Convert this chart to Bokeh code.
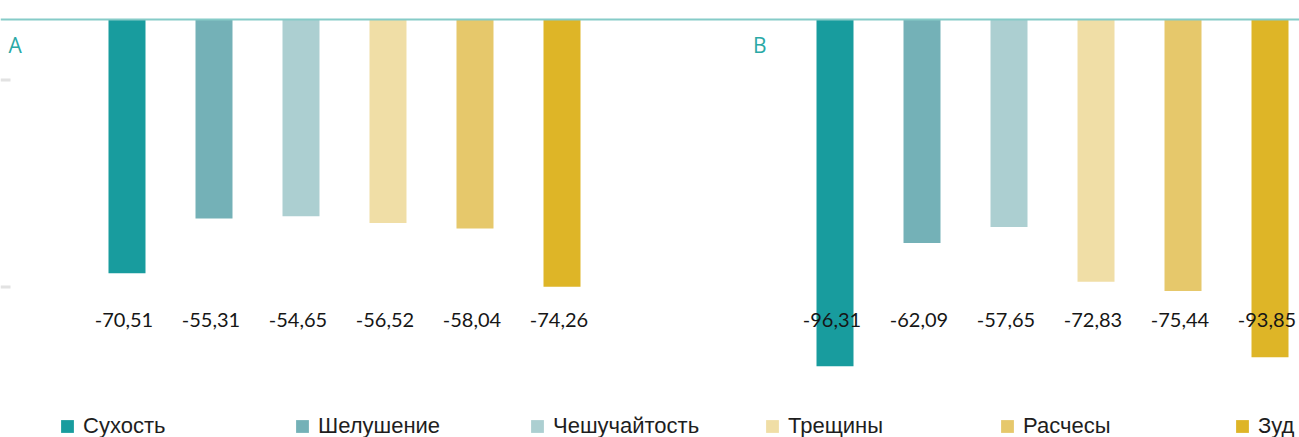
from bokeh.plotting import figure
from bokeh.models import (ColumnDataSource, Span, Label, Legend, LegendItem, Range1d,
                          BoxAnnotation)
from bokeh.core.properties import value
from bokeh.embed import file_html
from bokeh.resources import INLINE

# ---- data ----
categories = ["Сухость", "Шелушение", "Чешучайтость", "Трещины", "Расчесы", "Зуд"]
values_a = [-70.51, -55.31, -54.65, -56.52, -58.04, -74.26]
values_b = [-96.31, -62.09, -57.65, -72.83, -75.44, -93.85]
panel_names = ["A", "B"]

# ---- style ----
colors = ["#189c9e", "#74b1b7", "#accfd1", "#f0dea6", "#e6c86b", "#deb527"]
W, H = 1299, 437
PX_PER_X = 87.0          # pixels per bar slot
PX_PER_Y = 3.6           # pixels per value unit
X0 = -1.454              # left edge of range
GROUP_B = 8.138          # x shift of panel B
LINE_TOP = 19            # px from top of figure to zero line
LABEL_Y = -83.6          # y of value labels

x_end = X0 + W / PX_PER_X
y_end = LINE_TOP / PX_PER_Y
y_start = y_end - H / PX_PER_Y

p = figure(width=W, height=H, output_backend="svg", toolbar_location=None,
           x_range=Range1d(X0, x_end), y_range=Range1d(y_start, y_end),
           x_axis_location=None, y_axis_location=None, min_border=0)
p.outline_line_color = None
p.xgrid.visible = False
p.ygrid.visible = False
p.background_fill_color = "white"

fmt = lambda v: f"{v:.2f}".replace(".", ",")

# faint remnants of a left axis
for top_px in [78, 285]:
    p.add_layout(BoxAnnotation(left=0, right=10, top=H - top_px, bottom=H - top_px - 3,
                               left_units="screen", right_units="screen",
                               top_units="screen", bottom_units="screen",
                               fill_color="#e2e2e2", fill_alpha=1, line_color=None))

items = []
for i, cat in enumerate(categories):
    src = ColumnDataSource(dict(x=[i, i + GROUP_B], bottom=[values_a[i], values_b[i]]))
    r = p.vbar(x="x", top=0, bottom="bottom", width=37 / PX_PER_X, source=src,
               fill_color=colors[i], line_color=None)
    items.append(LegendItem(label=cat, renderers=[r]))

lab_src = ColumnDataSource(dict(
    x=list(range(len(categories))) + [i + GROUP_B for i in range(len(categories))],
    y=[LABEL_Y] * (2 * len(categories)),
    t=[fmt(v) for v in values_a] + [fmt(v) for v in values_b]))
p.text(x="x", y="y", text="t", source=lab_src, text_align="center",
       text_baseline="middle", text_font=value("Lato"), text_font_size="20px",
       text_color="#161616", x_offset=-3)

p.add_layout(Span(location=0, dimension="width", line_color="#86cbc8", line_width=2))

for name, sx in zip(panel_names, [8, 752.5]):
    p.add_layout(Label(x=sx, y=H - 44, x_units="screen", y_units="screen", text=name,
                       text_font="Open Sans", text_font_size="21px",
                       text_color="#2aa9a6", text_baseline="middle"))

legend = Legend(items=items, orientation="horizontal", location=(59, -2),
                border_line_color=None, background_fill_alpha=0, padding=0, margin=0,
                spacing=0, label_width=211, glyph_width=16, glyph_height=16,
                label_standoff=8, label_text_font="Liberation Sans",
                label_text_font_size="22px", label_text_color="#1e1e1e", label_height=16)
p.add_layout(legend)

open("out.html", "w").write(file_html(p, INLINE))
